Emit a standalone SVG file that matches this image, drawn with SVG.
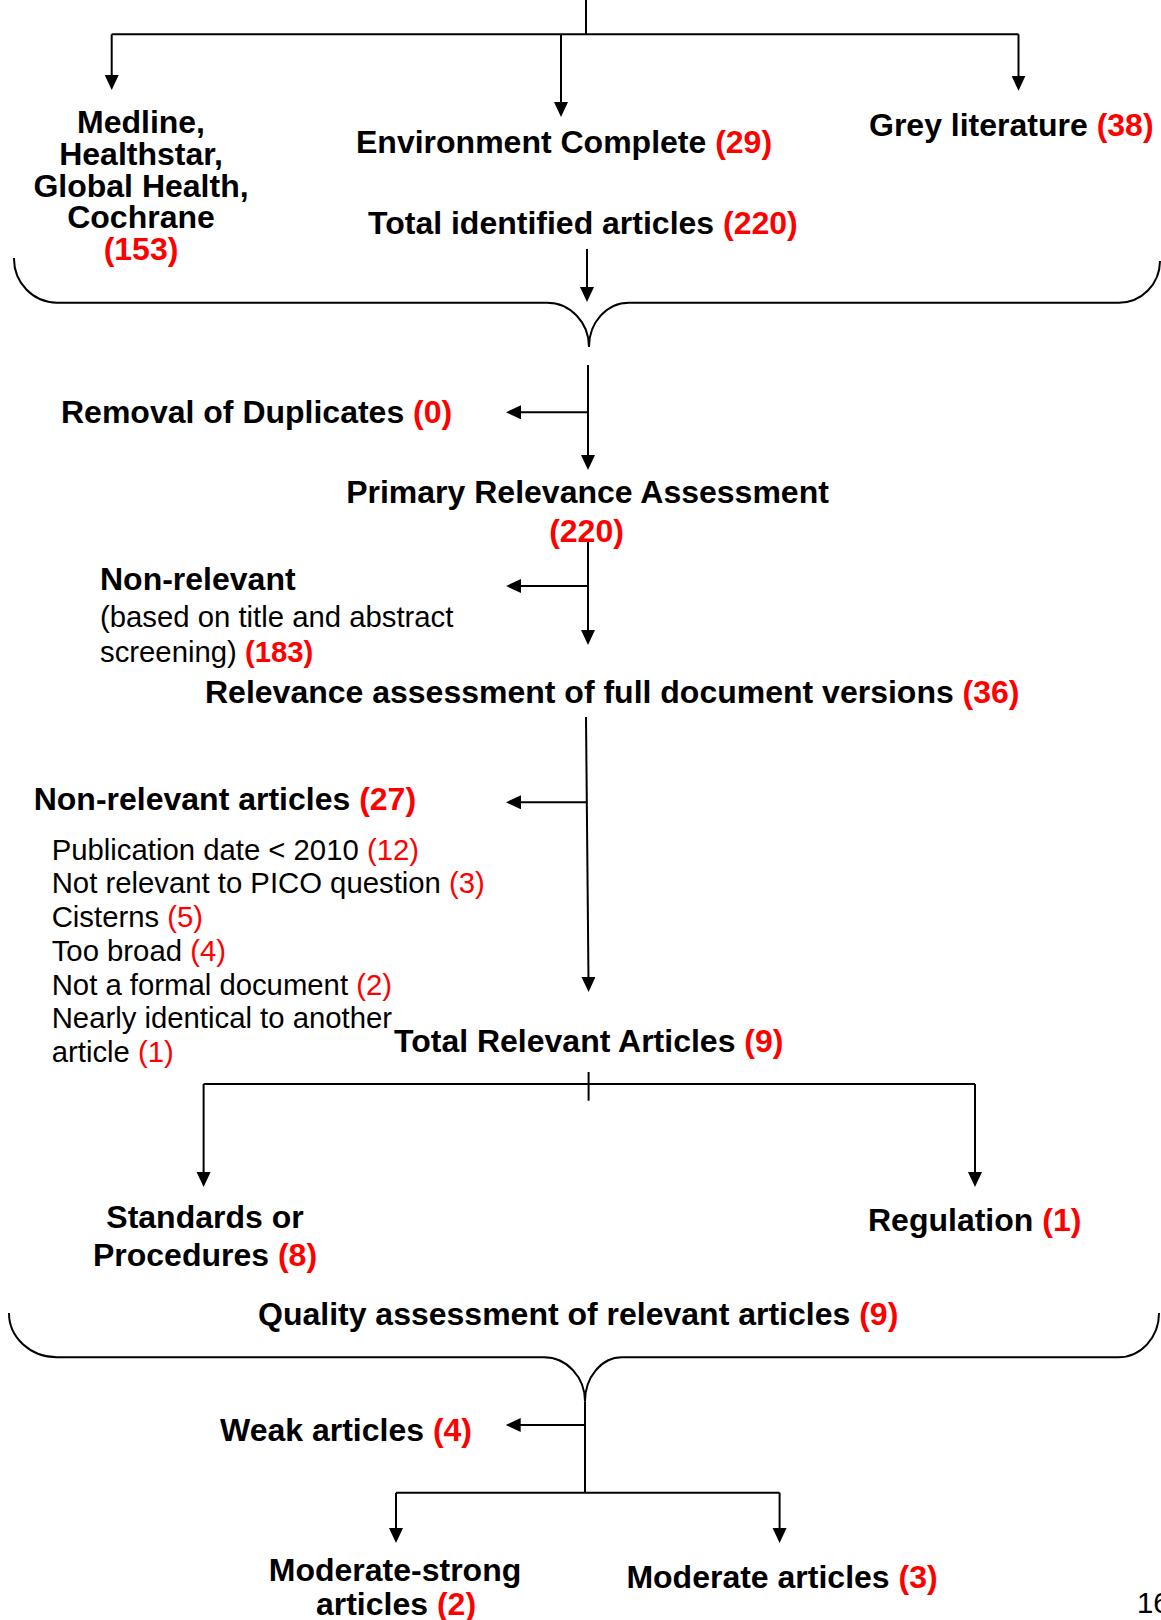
<svg xmlns="http://www.w3.org/2000/svg" width="1161" height="1620" viewBox="0 0 1161 1620">
<defs>
<style>
text{font-family:"Liberation Sans",Arial,sans-serif;fill:#000}
.b{font-weight:bold;font-size:32px}
.r{font-size:29.3px}
.rb{font-weight:bold;font-size:29.3px}
.red{fill:#ff0000}
.c{text-anchor:middle}
.ln{fill:none;stroke:#000;stroke-width:2}
.ar{marker-end:url(#ah)}
</style>
<marker id="ah" markerUnits="userSpaceOnUse" markerWidth="16" markerHeight="15" refX="4" refY="7" orient="auto">
<path d="M0,0 L15,7 L0,14 z" fill="#000"/>
</marker>
</defs>
<rect width="1161" height="1620" fill="#fff"/>
<g id="connectors">
<path class="ln" d="M586,0 V34.3"/>
<path class="ln" d="M111.7,34.3 H1018.5"/>
<path class="ln ar" d="M111.7,34.3 V79"/>
<path class="ln ar" d="M561,34.3 V106"/>
<path class="ln ar" d="M1018.5,34.3 V79.7"/>
<path class="ln ar" d="M587,249 V291"/>
<path class="ln" d="M14,258 A43,44 0 0 0 57,302.7 H547 A42,44 0 0 1 589,347 A40,44 0 0 1 629,302.7 H1119 A41,42 0 0 0 1160,261"/>
<path class="ln ar" d="M588,365 V459"/>
<path class="ln ar" d="M588,412.3 H517"/>
<path class="ln ar" d="M588,540 V634"/>
<path class="ln ar" d="M588,586 H517"/>
<path class="ln ar" d="M586,717 L588.5,981"/>
<path class="ln ar" d="M587,802.3 H517"/>
<path class="ln" d="M588.6,1072 V1100.7"/>
<path class="ln" d="M203.6,1084 H975"/>
<path class="ln ar" d="M203.6,1084 V1176"/>
<path class="ln ar" d="M975,1084 V1176"/>
<path class="ln" d="M9,1313 A48,44 0 0 0 57,1357.3 H544 A41,44 0 0 1 585,1401.7 A37,44 0 0 1 622,1357.3 H1118 A41,44 0 0 0 1159,1313"/>
<path class="ln" d="M585,1401.7 V1493"/>
<path class="ln ar" d="M585,1425 H516.7"/>
<path class="ln" d="M396,1492.7 H779.6"/>
<path class="ln ar" d="M396,1492.7 V1532"/>
<path class="ln ar" d="M779.6,1492.7 V1532"/>
</g>
<g id="node-medline">
<text class="b c" x="141" y="132.7">Medline,</text>
<text class="b c" x="141" y="165">Healthstar,</text>
<text class="b c" x="141" y="196.7">Global Health,</text>
<text class="b c" x="141" y="228.3">Cochrane</text>
<text class="b c red" x="141" y="260">(153)</text>
</g>
<g id="node-environment">
<text class="b" x="356" y="152.7">Environment Complete <tspan class="red">(29)</tspan></text>
</g>
<g id="node-grey">
<text class="b" x="869" y="135.7">Grey literature <tspan class="red">(38)</tspan></text>
</g>
<g id="node-total-identified">
<text class="b" x="368" y="234.3">Total identified articles <tspan class="red">(220)</tspan></text>
</g>
<g id="node-duplicates">
<text class="b" x="61" y="423.3">Removal of Duplicates <tspan class="red">(0)</tspan></text>
</g>
<g id="node-primary">
<text class="b c" x="587.5" y="503.3">Primary Relevance Assessment</text>
<text class="b c red" x="586.5" y="541.7">(220)</text>
</g>
<g id="node-nonrelevant">
<text class="b" x="100" y="590">Non-relevant</text>
<text class="r" x="100" y="626.7">(based on title and abstract</text>
<text class="r" x="100" y="661.7">screening) <tspan class="rb red">(183)</tspan></text>
</g>
<g id="node-fulldoc">
<text class="b" x="205" y="703.3">Relevance assessment of full document versions <tspan class="red">(36)</tspan></text>
</g>
<g id="node-nonrelevant-articles">
<text class="b" x="33.7" y="810">Non-relevant articles <tspan class="red">(27)</tspan></text>
<text class="r" x="51.7" y="860">Publication date &lt; 2010 <tspan class="red">(12)</tspan></text>
<text class="r" x="51.7" y="893.3">Not relevant to PICO question <tspan class="red">(3)</tspan></text>
<text class="r" x="51.7" y="926.7">Cisterns <tspan class="red">(5)</tspan></text>
<text class="r" x="51.7" y="961">Too broad <tspan class="red">(4)</tspan></text>
<text class="r" x="51.7" y="995">Not a formal document <tspan class="red">(2)</tspan></text>
<text class="r" x="51.7" y="1028.3">Nearly identical to another</text>
<text class="r" x="51.7" y="1061.7">article <tspan class="red">(1)</tspan></text>
</g>
<g id="node-total-relevant">
<text class="b" x="394" y="1051.7">Total Relevant Articles <tspan class="red">(9)</tspan></text>
</g>
<g id="node-standards">
<text class="b c" x="205" y="1228.3">Standards or</text>
<text class="b c" x="205" y="1266">Procedures <tspan class="red">(8)</tspan></text>
</g>
<g id="node-regulation">
<text class="b" x="868" y="1230.7">Regulation <tspan class="red">(1)</tspan></text>
</g>
<g id="node-quality">
<text class="b" x="258" y="1325">Quality assessment of relevant articles <tspan class="red">(9)</tspan></text>
</g>
<g id="node-weak">
<text class="b" x="220" y="1440.7">Weak articles <tspan class="red">(4)</tspan></text>
</g>
<g id="node-moderate-strong">
<text class="b c" x="395" y="1580.5">Moderate-strong</text>
<text class="b c" x="396" y="1615">articles <tspan class="red">(2)</tspan></text>
</g>
<g id="node-moderate">
<text class="b" x="626.4" y="1588.3">Moderate articles <tspan class="red">(3)</tspan></text>
</g>
<g id="page-number">
<text class="r" x="1137" y="1613">16</text>
</g>
</svg>
